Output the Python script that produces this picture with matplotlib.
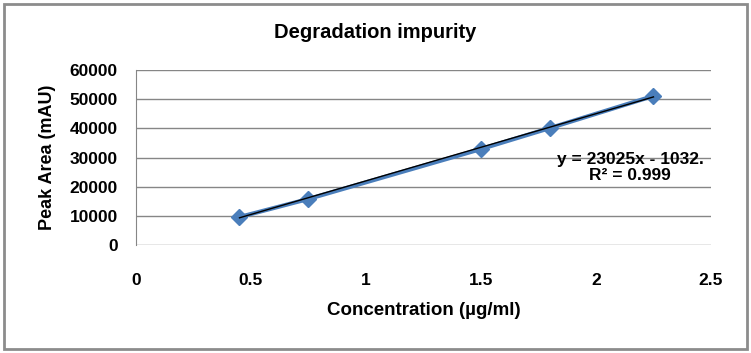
import matplotlib.pyplot as plt
import matplotlib.patches as patches
import numpy as np

plt.rcParams['font.family'] = ['Liberation Sans', 'DejaVu Sans']

conc = [0.45, 0.75, 1.5, 1.8, 2.25]
area = [9600, 15800, 32900, 40100, 51100]
slope = 23025
intercept = -1032
xticks = [0, 0.5, 1, 1.5, 2, 2.5]
yticks = [0, 10000, 20000, 30000, 40000, 50000, 60000]

fig = plt.figure(figsize=(7.51, 3.53), dpi=100)
fig.patches.append(patches.Rectangle((0.005, 0.01), 0.99, 0.98, transform=fig.transFigure,
                                     fill=False, edgecolor='#8c8c8c', linewidth=2))
ax = fig.add_axes([0.1811, 0.3059, 0.7656, 0.4958])

ax.plot(conc, area, color='#4a7ebb', linewidth=3, marker='D', markersize=8, zorder=3)
xt = np.array([conc[0], conc[-1]])
ax.plot(xt, slope * xt + intercept, color='black', linewidth=1, zorder=4)

ax.set_xlim(0, 2.5)
ax.set_ylim(0, 60000)
ax.set_xticks(xticks)
ax.set_xticklabels(['0', '0.5', '1', '1.5', '2', '2.5'])
ax.set_yticks(yticks)
ax.grid(axis='y', color='#868686', linewidth=1)
ax.set_axisbelow(True)
for s in ['top', 'right', 'bottom']:
    ax.spines[s].set_visible(False)
ax.spines['left'].set_color('#868686')
ax.tick_params(axis='x', length=0, pad=20, labelsize=12.5)
ax.tick_params(axis='y', length=0, pad=13, labelsize=12.5)
for lab in ax.get_xticklabels() + ax.get_yticklabels():
    lab.set_fontweight('bold')

ax.set_xlabel('Concentration (µg/ml)', fontsize=13.5, fontweight='bold', labelpad=10)
ax.set_ylabel('Peak Area (mAU)', fontsize=13, fontweight='bold', labelpad=10)
fig.text(0.5, 0.909, 'Degradation impurity', ha='center', va='center', fontsize=14.5, fontweight='bold')

ax.text(2.148, 26500, 'y = 23025x - 1032.\nR² = 0.999', ha='center', va='center',
        fontsize=12.5, fontweight='bold', linespacing=1.05)

fig.savefig('out.png', dpi=100)
